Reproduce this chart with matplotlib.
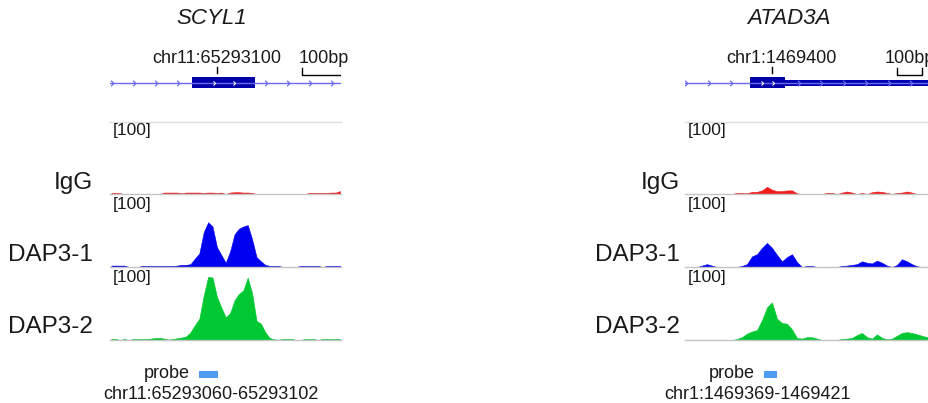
import numpy as np
import matplotlib.pyplot as plt
from matplotlib.patches import Rectangle
from matplotlib.path import Path

plt.rcParams['font.family'] = ['Liberation Sans', 'DejaVu Sans']

W, H = 929, 403

# --- data ------------------------------------------------------------------
genes = ["SCYL1", "ATAD3A"]
track_names = ["IgG", "DAP3-1", "DAP3-2"]
track_colors = ["#ee1c1c", "#0000f0", "#00c832"]
data_range = 100

# view windows (genomic coordinates)
left_view = (65292857, 65293382)
right_view = (1469052, 1470152)

# coverage bins: start, bin size
left_bin_start, left_bin_size = 65292860, 10
right_bin_start, right_bin_size = 1469060, 20

igg_left = [1.5, 1.5, 1, 0, 0, 0, 0, 0, 0, 0,
            0, 0, 2, 2, 2, 2, 1, 2, 2, 2,
            2, 1.5, 2, 2, 1.5, 2, 0, 2, 2.5, 2.5,
            2, 2, 1.5, 0, 0, 0, 0, 0, 0, 0,
            0, 0, 0, 0, 0, 1.5, 1.5, 1.5, 1.5, 1.5,
            2, 2, 4]
dap31_left = [2, 2, 2, 2, 0, 0, 0, 1.5, 1.5, 1.5,
              1.5, 1.5, 1.5, 1.5, 1.5, 2, 3, 3, 4, 12,
              19, 49, 63, 57, 28, 17, 6, 22, 46, 54,
              57, 59, 39, 14, 8, 3, 1.5, 1.5, 1.5, 0,
              0, 0, 0, 1.5, 1.5, 1.5, 1.5, 1.5, 0, 1.5,
              1.5, 1.5, 1.5]
dap32_left = [1.5, 1.5, 0, 1.5, 0, 1.5, 1.5, 1.5, 1.5, 2,
              3, 3, 2, 0.5, 1.5, 2.5, 3.5, 5, 11, 21,
              30, 63, 89, 88, 61, 46, 32, 38, 56, 65,
              70, 88, 66, 27, 23, 11, 3, 1, 0.5, 1.5,
              1.5, 1.5, 0, 0, 1.5, 1.5, 1.5, 0, 1.5, 1.5,
              1.5, 1.5, 1.5]

igg_right = [0, 0, 0, 0, 0, 0, 0, 0, 0, 0,
             1.5, 1.5, 1, 3, 3, 5, 10, 6, 4, 4,
             5, 5, 1, 0, 0, 0, 0, 0, 1.5, 1.5,
             0, 2, 3.5, 2, 0, 1.5, 0, 2.5, 3.5, 3,
             1.5, 0, 1.5, 2, 3.5, 2, 0, 0, 0, 0, 0]
dap31_right = [0, 0, 0, 2, 4, 2, 0, 0, 0, 0,
               0, 1.5, 4, 15, 18, 27, 34, 27, 17, 8,
               14, 18, 7, 0, 1.5, 1.5, 0, 0, 0, 0,
               0, 1.5, 2, 3, 4, 8, 6, 5, 9, 6,
               2, 0, 3, 11, 8, 4, 1, 0, 0, 0, 0]
dap32_right = [0, 0, 0, 0, 0, 0, 0, 0, 0, 0,
               1.5, 4, 9, 12, 14, 28, 46, 53, 30, 24,
               23, 15, 3, 2, 4, 4, 2, 0, 0, 0,
               0, 1.5, 2, 3, 7, 10, 4, 2, 8, 3,
               1, 2, 6, 10, 11, 10, 8, 6, 4, 3, 2]

# gene models
left_exon = (65293043, 65293187)
left_thick = None
right_exon = (1469312, 1469452)
right_thick = (1469452, 1470300)

# locus labels, scale bars, probes
left_tick, left_tick_label = 65293100, "chr11:65293100"
right_tick, right_tick_label = 1469400, "chr1:1469400"
left_scale = (65293293, 65293393)
right_scale = (1469900, 1470000)
left_probe = (65293060, 65293102)
right_probe = (1469369, 1469421)

# --- figure ------------------------------------------------------------------
fig = plt.figure(figsize=(W / 100, H / 100), dpi=100)


def px_axes(x0, y0, x1, y1):
    ax = fig.add_axes([x0 / W, 1 - y1 / H, (x1 - x0) / W, (y1 - y0) / H])
    ax.set_axis_off()
    return ax


chevron = Path([(-0.5, 1), (0.5, 0), (-0.5, -1)],
               [Path.MOVETO, Path.LINETO, Path.LINETO])

panels = [
    dict(gene=genes[0], view=left_view, x0=110, x1=341, label_x=93,
         bin_start=left_bin_start, bin_size=left_bin_size,
         tracks=[igg_left, dap31_left, dap32_left],
         exon=left_exon, thick=left_thick, chev_step=50,
         tick=left_tick, tick_label=left_tick_label, tick_dx=0,
         scale=left_scale, probe=left_probe, coord_dx=2, title_x=212),
    dict(gene=genes[1], view=right_view, x0=685, x1=960, label_x=680,
         bin_start=right_bin_start, bin_size=right_bin_size,
         tracks=[igg_right, dap31_right, dap32_right],
         exon=right_exon, thick=right_thick, chev_step=90,
         tick=right_tick, tick_label=right_tick_label, tick_dx=36,
         scale=right_scale, probe=right_probe, coord_dx=-13, title_x=789),
]

track_rows = [(122, 194), (196, 267), (269, 340)]
label_y = [183, 255, 327]
text_col = "#1a1a1a"
small_fs = 13

for p in panels:
    lo, hi = p["view"]

    fig.text(p["title_x"] / W, 1 - 18 / H, p["gene"], style="italic",
             fontsize=16, ha="center", va="center", color=text_col)

    # gene track
    g = px_axes(p["x0"], 0, p["x1"], 110)
    g.set_xlim(lo, hi)
    g.set_ylim(110, 0)
    g.plot([lo, hi], [82.5, 82.5], color="#6a6af0", lw=1)
    e0, e1 = p["exon"]
    chev = np.arange(lo + 5, hi, p["chev_step"])
    chev = chev[(chev < e0 - 10) | (chev > e1 + 10)]
    g.plot(chev, np.full(len(chev), 82.5), ls="none", marker=chevron,
           ms=4, mfc="none", mec="#6a6af0", mew=0.9)
    if p["thick"]:
        t0, t1 = p["thick"]
        g.add_patch(Rectangle((t0, 79.5), t1 - t0, 6, color="#0000b0", lw=0))
    g.add_patch(Rectangle((e0, 77), e1 - e0, 11, color="#0000a8", lw=0))
    inner = np.arange(e0 + 0.35 * (e1 - e0), e1 - 10, 0.32 * (e1 - e0))
    g.plot(inner, np.full(len(inner), 82.5), ls="none", marker=chevron,
           ms=3, mfc="none", mec="white", mew=0.8)
    g.plot([p["tick"], p["tick"]], [67, 73], color="k", lw=1)
    g.text(p["tick"] + p["tick_dx"], 58.5, p["tick_label"], ha="center",
           va="center", fontsize=small_fs, color=text_col)
    s0, s1 = p["scale"]
    g.plot([s0, s0, s1, s1], [68, 74.5, 74.5, 68], color="k", lw=1)
    g.text((s0 + s1) / 2, 58.5, "100bp", ha="center", va="center",
           fontsize=small_fs, color=text_col)

    # coverage tracks
    for k, (vals, (top, bot)) in enumerate(zip(p["tracks"], track_rows)):
        ax = px_axes(p["x0"], top, p["x1"], bot)
        ax.set_xlim(lo, hi)
        ax.set_ylim(0, data_range)
        pos = p["bin_start"] + p["bin_size"] * np.arange(len(vals))
        ax.fill_between(pos, 0, vals, color=track_colors[k], lw=0.4,
                        edgecolor=track_colors[k])
        ax.axhline(0, color="#c4c4c4", lw=1, clip_on=False)
        if k == 0:
            ax.axhline(data_range, color="#dddddd", lw=1, clip_on=False)
        ax.annotate(f"[{data_range}]", xy=(0, 1), xycoords="axes fraction",
                    xytext=(2, -1), textcoords="offset points",
                    va="top", ha="left", fontsize=12.5, color=text_col)
        fig.text(p["label_x"] / W, 1 - label_y[k] / H, track_names[k],
                 ha="right", va="center", fontsize=17.5, color=text_col)

    # probe
    pr = px_axes(p["x0"], 355, p["x1"], 403)
    pr.set_xlim(lo, hi)
    pr.set_ylim(403, 355)
    p0, p1 = p["probe"]
    pr.add_patch(Rectangle((p0, 371), p1 - p0, 7, color="#4d9cf2", lw=0))
    pr.annotate("probe", xy=(p0, 373.5), xycoords="data", xytext=(-7, 0),
                textcoords="offset points", ha="right", va="center",
                fontsize=small_fs, color=text_col)
    chrom = p["tick_label"].split(":")[0]
    pr.annotate(f"{chrom}:{p0}-{p1}", xy=((p0 + p1) / 2, 394),
                xycoords="data", xytext=(p["coord_dx"] * 0.72, 0),
                textcoords="offset points", ha="center", va="center",
                fontsize=small_fs, color=text_col)

fig.savefig("out.png", dpi=100)
